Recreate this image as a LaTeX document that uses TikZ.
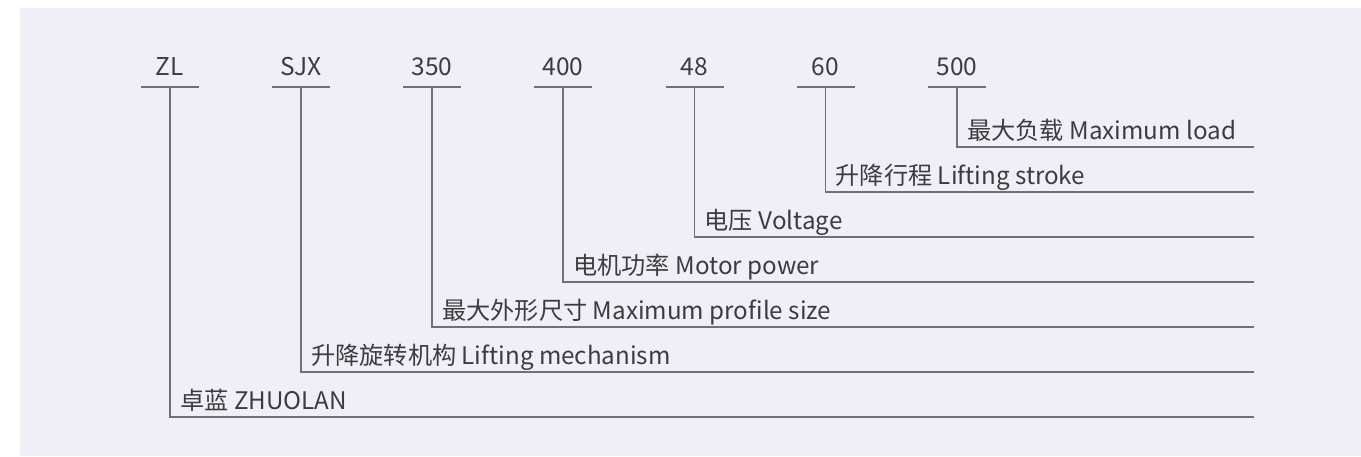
\documentclass[tikz,border=0pt]{standalone}
\usepackage{fontspec}
\setmainfont{Noto Sans CJK SC}
\definecolor{panel}{HTML}{F0EFF7}
\definecolor{linec}{HTML}{707075}
\definecolor{textc}{HTML}{3C3C40}
\begin{document}
\begin{tikzpicture}[x=1pt,y=-1pt,
  codelabel/.style={font=\fontsize{24.5}{28}\selectfont,text=textc,inner sep=0pt,anchor=base},
  desclabel/.style={font=\fontsize{24.2}{28}\selectfont,text=textc,inner sep=0pt,anchor=base west},
  leader/.style={draw=linec,line width=1.6pt}]
\useasboundingbox (0,0) rectangle (1361,456);
\fill[white] (0,0) rectangle (1361,456);
\fill[panel] (20,8) rectangle (1361,456);
\foreach \x/\lab/\desc/\i [count=\k] in {
  170/ZL/卓蓝 ZHUOLAN/0,
  301/SJX/升降旋转机构 Lifting mechanism/1,
  432/350/最大外形尺寸 Maximum profile size/2,
  563/400/电机功率 Motor power/3,
  694.5/48/电压 Voltage/4,
  825.5/60/升降行程 Lifting stroke/5,
  957/500/最大负载 Maximum load/6}{
  \pgfmathsetmacro{\yy}{417-45*\i}
  \node[codelabel] (t\k) at (\x,75.5) {\lab};
  \coordinate (b\k) at (\x,87);
  \coordinate (bl\k) at (\x-29,87);
  \coordinate (br\k) at (\x+29,87);
  \coordinate (c\k) at (\x,\yy);
  \coordinate (e\k) at (1254,\yy);
  \draw[leader] (bl\k) -- (br\k);
  \draw[leader] (b\k) -- (c\k) -- (e\k);
  \node[desclabel] (d\k) at (\x+10,\yy-8) {\desc};
}
\end{tikzpicture}
\end{document}
